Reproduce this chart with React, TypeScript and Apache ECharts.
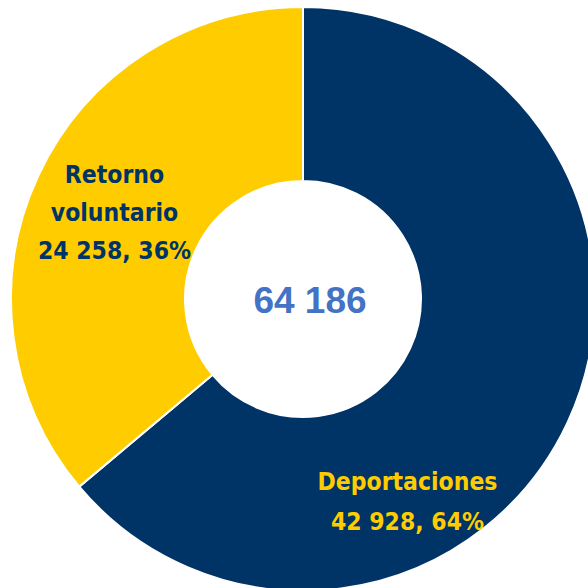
import React, { useEffect, useRef } from "react";
import * as echarts from "echarts";

const categories = ["Deportaciones", "Retorno voluntario"];
const labelNames = ["Deportaciones", "Retorno\nvoluntario"];
const values = [42928, 24258];
const colors = ["#003366", "#FFCC00"];
const labelColors = ["#FFCC00", "#003366"];
const totalLabel = "64 186";

function fmt(n: number): string {
  return String(n).replace(/\B(?=(\d{3})+(?!\d))/g, " ");
}

export default function App() {
  const ref = useRef<HTMLDivElement>(null);
  useEffect(() => {
    if (!ref.current) return;
    const chart = echarts.init(ref.current, undefined, { renderer: "svg" });
    const labelFont = "'Liberation Sans Narrow', 'DejaVu Sans Condensed', Arial, sans-serif";
    chart.setOption({
      animation: false,
      backgroundColor: "#ffffff",
      graphic: [
        {
          type: "text",
          x: 310,
          y: 300,
          style: {
            text: totalLabel,
            fill: "#4472C4",
            fontFamily: "Liberation Sans",
            fontWeight: "bold",
            fontSize: 37,
            textAlign: "center",
            textVerticalAlign: "middle",
          },
        },
      ],
      series: [
        {
          type: "pie",
          center: [303, 299],
          radius: [118, 292],
          startAngle: 90,
          clockwise: true,
          avoidLabelOverlap: false,
          itemStyle: { borderColor: "#ffffff", borderWidth: 2 },
          label: {
            show: true,
            position: "inside",
            fontFamily: labelFont,
            fontWeight: "bold",
            fontSize: 24.5,
            lineHeight: 39,
            align: "center",
            formatter: (p: any) =>
              `${labelNames[p.dataIndex]}\n${fmt(p.value)}, ${Math.round(p.percent)}%`,
          },
          labelLine: { show: false },
          labelLayout: (p: any) =>
            p.dataIndex === 0 ? { dx: -84, dy: 115 } : { dx: 0, dy: 1 },
          data: categories.map((c, i) => ({
            name: c,
            value: values[i],
            itemStyle: { color: colors[i] },
            label: { color: labelColors[i], lineHeight: i === 0 ? 40 : 38 },
          })),
        },
      ],
    });
    return () => chart.dispose();
  }, []);
  return (
    <div
      ref={ref}
      style={{ position: "fixed", left: 0, top: 0, width: 588, height: 588 }}
    />
  );
}
